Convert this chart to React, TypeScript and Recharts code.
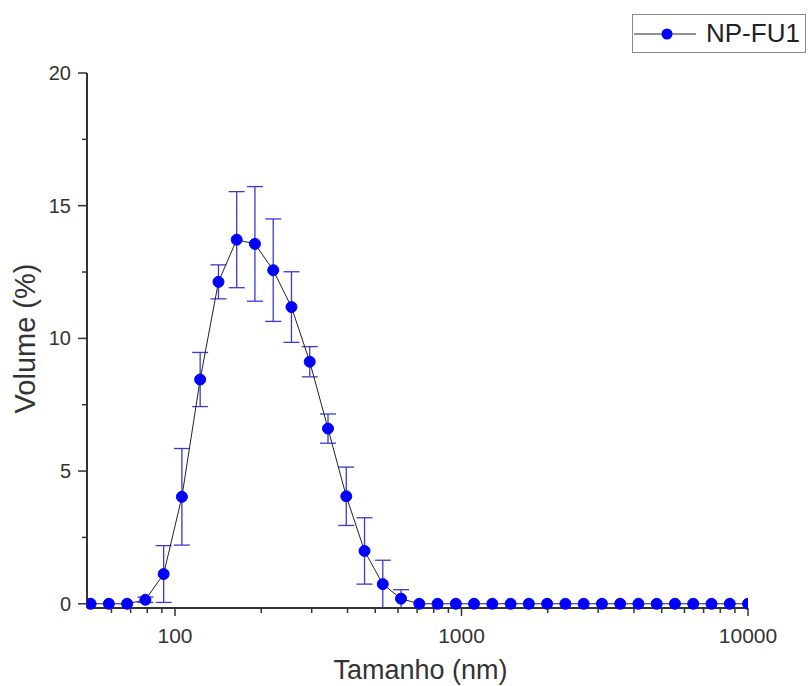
import { ComposedChart, ErrorBar, Label, Line, XAxis, YAxis } from "recharts";

// Zetasizer size classes (nm) and measured volume distribution
const sizes = [
  50.75, 58.77, 68.06, 78.82, 91.28, 105.7, 122.4, 141.8, 164.2, 190.1, 220.2, 255.0,
  295.3, 342.0, 396.1, 458.7, 531.2, 615.1, 712.4, 825.0, 955.4, 1106, 1281, 1484,
  1718, 1990, 2305, 2669, 3091, 3580, 4145, 4801, 5560, 6439, 7456, 8635, 10000,
];
const volume = [
  0, 0, 0, 0.15, 1.12, 4.03, 8.45, 12.13, 13.72, 13.56, 12.57, 11.18,
  9.12, 6.6, 4.05, 1.99, 0.74, 0.19, 0, 0, 0, 0, 0, 0,
  0, 0, 0, 0, 0, 0, 0, 0, 0, 0, 0, 0, 0,
];
const volumeErr = [
  0, 0, 0, 0.1, 1.07, 1.82, 1.02, 0.64, 1.81, 2.16, 1.93, 1.33,
  0.57, 0.55, 1.1, 1.25, 0.9, 0.34, 0, 0, 0, 0, 0, 0,
  0, 0, 0, 0, 0, 0, 0, 0, 0, 0, 0, 0, 0,
];

const xMajor = [100, 1000, 10000];
const xTicks = [
  60, 70, 80, 90, 100, 200, 300, 400, 500, 600, 700, 800, 900, 1000,
  2000, 3000, 4000, 5000, 6000, 7000, 8000, 9000, 10000,
];
const yMajor = [0, 5, 10, 15, 20];
const yTicks = [0, 2.5, 5, 7.5, 10, 12.5, 15, 17.5, 20];
const seriesName = "NP-FU1";

const data = sizes.map((size, i) => ({ size, volume: volume[i], err: volumeErr[i] }));

const AXIS = "#333";
const BLUE = "#0000ff";
const FONT = "'Liberation Sans', Arial, sans-serif";

const XTick = ({ x, y, payload }: any) => {
  const major = xMajor.includes(payload.value);
  return (
    <g>
      <line x1={x} x2={x} y1={y} y2={y + (major ? 8 : 5)} stroke={AXIS} strokeWidth={1.5} />
      {major && (
        <text x={x} y={y + 35} textAnchor="middle" fontSize={21} fill={AXIS} fontFamily={FONT}>
          {payload.value}
        </text>
      )}
    </g>
  );
};

const YTick = ({ x, y, payload }: any) => {
  const major = yMajor.includes(payload.value);
  return (
    <g>
      <line x1={x} x2={x - (major ? 9 : 5)} y1={y} y2={y} stroke={AXIS} strokeWidth={1.5} />
      {major && (
        <text x={x - 16} y={y + 7} textAnchor="end" fontSize={20} fill={AXIS} fontFamily={FONT}>
          {payload.value}
        </text>
      )}
    </g>
  );
};

const LegendBox = () => (
  <div
    style={{
      position: "absolute",
      left: 632,
      top: 14,
      display: "flex",
      alignItems: "center",
      border: "1px solid #888",
      height: 39,
      width: 174,
      boxSizing: "border-box",
      fontFamily: FONT,
      fontSize: 26,
      color: "#222",
      background: "#fff",
    }}
  >
    <svg width={68} height={20}>
      <line x1={1} x2={63} y1={10} y2={10} stroke="#222" strokeWidth={1} />
      <circle cx={34} cy={10} r={5.5} fill={BLUE} />
    </svg>
    <span style={{ marginLeft: 5 }}>{seriesName}</span>
  </div>
);

export default function App() {
  return (
    <div style={{ position: "absolute", left: 0, top: 0, width: 809, height: 686, background: "#fff" }}>
      <ComposedChart
        width={809}
        height={686}
        data={data}
        margin={{ top: 73, right: 61, bottom: 0, left: 0 }}
      >
        <XAxis
          dataKey="size"
          type="number"
          scale="log"
          domain={[49.3, 10000]}
          ticks={xTicks}
          interval={0}
          allowDataOverflow
          height={78}
          tickSize={0}
          tickMargin={0}
          tickLine={false}
          tick={<XTick />}
          axisLine={{ stroke: AXIS, strokeWidth: 2 }}
        >
          <Label
            content={({ viewBox }: any) => (
              <text
                x={viewBox.x + viewBox.width / 2 + 3}
                y={viewBox.y + 71}
                textAnchor="middle"
                fontSize={27}
                fill={AXIS}
                fontFamily={FONT}
              >
                Tamanho (nm)
              </text>
            )}
          />
        </XAxis>
        <YAxis
          type="number"
          domain={[0, 20]}
          ticks={yTicks}
          interval={0}
          width={87}
          tickSize={0}
          tickMargin={0}
          tickLine={false}
          tick={<YTick />}
          axisLine={{ stroke: AXIS, strokeWidth: 2 }}
        >
          <Label
            content={({ viewBox }: any) => {
              const cx = 25;
              const cy = viewBox.y + viewBox.height / 2 - 2;
              return (
                <text
                  x={cx}
                  y={cy}
                  transform={`rotate(-90 ${cx} ${cy})`}
                  textAnchor="middle"
                  dominantBaseline="central"
                  fontSize={29}
                  fill={AXIS}
                  fontFamily={FONT}
                >
                  Volume (%)
                </text>
              );
            }}
          />
        </YAxis>
        <Line
          type="linear"
          dataKey="volume"
          name={seriesName}
          stroke="#222"
          strokeWidth={1}
          dot={{ r: 5.5, fill: BLUE, stroke: BLUE, strokeWidth: 1 }}
          isAnimationActive={false}
        >
          <ErrorBar dataKey="err" direction="y" width={8} stroke="#3a3ad0" strokeWidth={1.3} />
        </Line>
      </ComposedChart>
      <LegendBox />
    </div>
  );
}
